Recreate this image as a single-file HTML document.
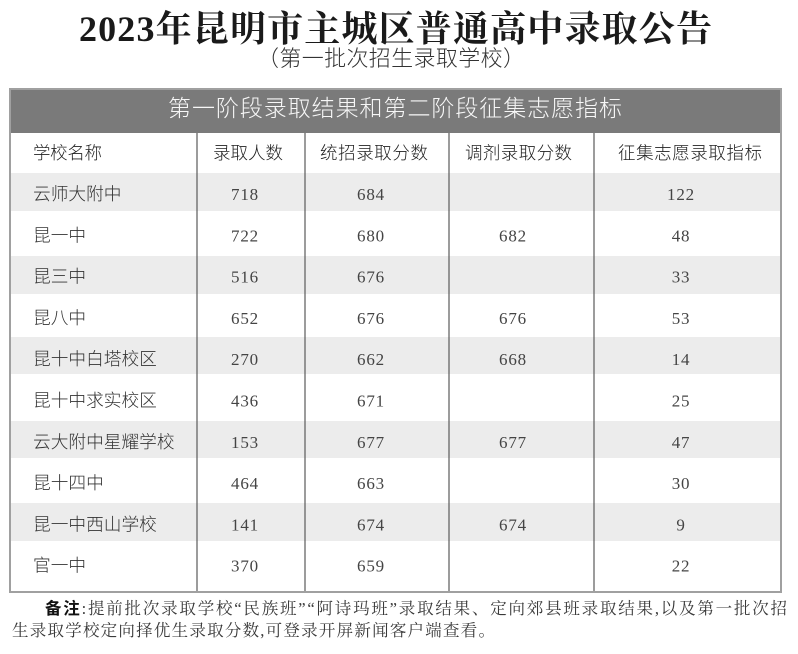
<!DOCTYPE html>
<html><head><meta charset="utf-8"><style>
html,body{margin:0;padding:0;background:#fff;}
svg{display:block;}
.s{font-family:"Liberation Sans","Noto Sans CJK SC",sans-serif;}
.n{font-family:"Liberation Serif","Noto Serif CJK SC",serif;}
</style></head><body>
<svg width="798" height="654" viewBox="0 0 798 654" xmlns="http://www.w3.org/2000/svg">
<rect x="0" y="0" width="798" height="654" fill="#fff"/>
<text class="n" x="79" y="41" font-size="36" font-weight="700" fill="#1a1a1a" textLength="633" lengthAdjust="spacing">2023年昆明市主城区普通高中录取公告</text>
<text class="s" x="257" y="66" font-size="22" font-weight="300" fill="#333" textLength="268" lengthAdjust="spacing">（第一批次招生录取学校）</text>
<rect x="10" y="89" width="771" height="44" fill="#7a7a7a"/>
<text class="s" x="168" y="116" font-size="23" font-weight="300" fill="#f7f7f7" textLength="454" lengthAdjust="spacing">第一阶段录取结果和第二阶段征集志愿指标</text>
<g fill="#ececec">
<rect x="11" y="173" width="769" height="38"/>
<rect x="11" y="256" width="769" height="38"/>
<rect x="11" y="337" width="769" height="37"/>
<rect x="11" y="421" width="769" height="37"/>
<rect x="11" y="503" width="769" height="38"/>
</g>
<g stroke="#5a5a5a" stroke-width="1.2">
<line x1="197" y1="133" x2="197" y2="592"/>
<line x1="305" y1="133" x2="305" y2="592"/>
<line x1="449" y1="133" x2="449" y2="592"/>
<line x1="594" y1="133" x2="594" y2="592"/>
</g>
<rect x="10" y="89" width="771" height="503" fill="none" stroke="#a0a0a0" stroke-width="2"/>
<g class="s" font-size="17.5" font-weight="300" fill="#222">
<text x="33" y="159" textLength="69" lengthAdjust="spacing">学校名称</text>
<text x="213" y="159" textLength="70" lengthAdjust="spacing">录取人数</text>
<text x="320" y="159" textLength="108" lengthAdjust="spacing">统招录取分数</text>
<text x="465" y="159" textLength="107" lengthAdjust="spacing">调剂录取分数</text>
<text x="618" y="159" textLength="144" lengthAdjust="spacing">征集志愿录取指标</text>
</g>
<g class="s" font-size="17.7" font-weight="300" fill="#333">
<text x="33" y="200">云师大附中</text>
<text x="33" y="241.3">昆一中</text>
<text x="33" y="282.6">昆三中</text>
<text x="33" y="323.9">昆八中</text>
<text x="33" y="365.2">昆十中白塔校区</text>
<text x="33" y="406.5">昆十中求实校区</text>
<text x="33" y="447.8">云大附中星耀学校</text>
<text x="33" y="489.1">昆十四中</text>
<text x="33" y="530.4">昆一中西山学校</text>
<text x="33" y="571.7">官一中</text>
</g>
<g class="n" font-size="17" fill="#444" text-anchor="middle" letter-spacing="0.8">
<text x="245" y="200">718</text><text x="371" y="200">684</text><text x="681" y="200">122</text>
<text x="245" y="241.3">722</text><text x="371" y="241.3">680</text><text x="513" y="241.3">682</text><text x="681" y="241.3">48</text>
<text x="245" y="282.6">516</text><text x="371" y="282.6">676</text><text x="681" y="282.6">33</text>
<text x="245" y="323.9">652</text><text x="371" y="323.9">676</text><text x="513" y="323.9">676</text><text x="681" y="323.9">53</text>
<text x="245" y="365.2">270</text><text x="371" y="365.2">662</text><text x="513" y="365.2">668</text><text x="681" y="365.2">14</text>
<text x="245" y="406.5">436</text><text x="371" y="406.5">671</text><text x="681" y="406.5">25</text>
<text x="245" y="447.8">153</text><text x="371" y="447.8">677</text><text x="513" y="447.8">677</text><text x="681" y="447.8">47</text>
<text x="245" y="489.1">464</text><text x="371" y="489.1">663</text><text x="681" y="489.1">30</text>
<text x="245" y="530.4">141</text><text x="371" y="530.4">674</text><text x="513" y="530.4">674</text><text x="681" y="530.4">9</text>
<text x="245" y="571.7">370</text><text x="371" y="571.7">659</text><text x="681" y="571.7">22</text>
</g>
<text class="n" x="45" y="614" font-size="16.5" fill="#3a3a3a" textLength="742" lengthAdjust="spacing"><tspan font-family="Liberation Sans, Noto Sans CJK SC, sans-serif" font-weight="700" fill="#111">备注</tspan>:提前批次录取学校“民族班”“阿诗玛班”录取结果、定向郊县班录取结果,以及第一批次招</text>
<text class="n" x="12" y="636" font-size="16.5" fill="#3a3a3a" textLength="483" lengthAdjust="spacing">生录取学校定向择优生录取分数,可登录开屏新闻客户端查看。</text>
</svg>
</body></html>
